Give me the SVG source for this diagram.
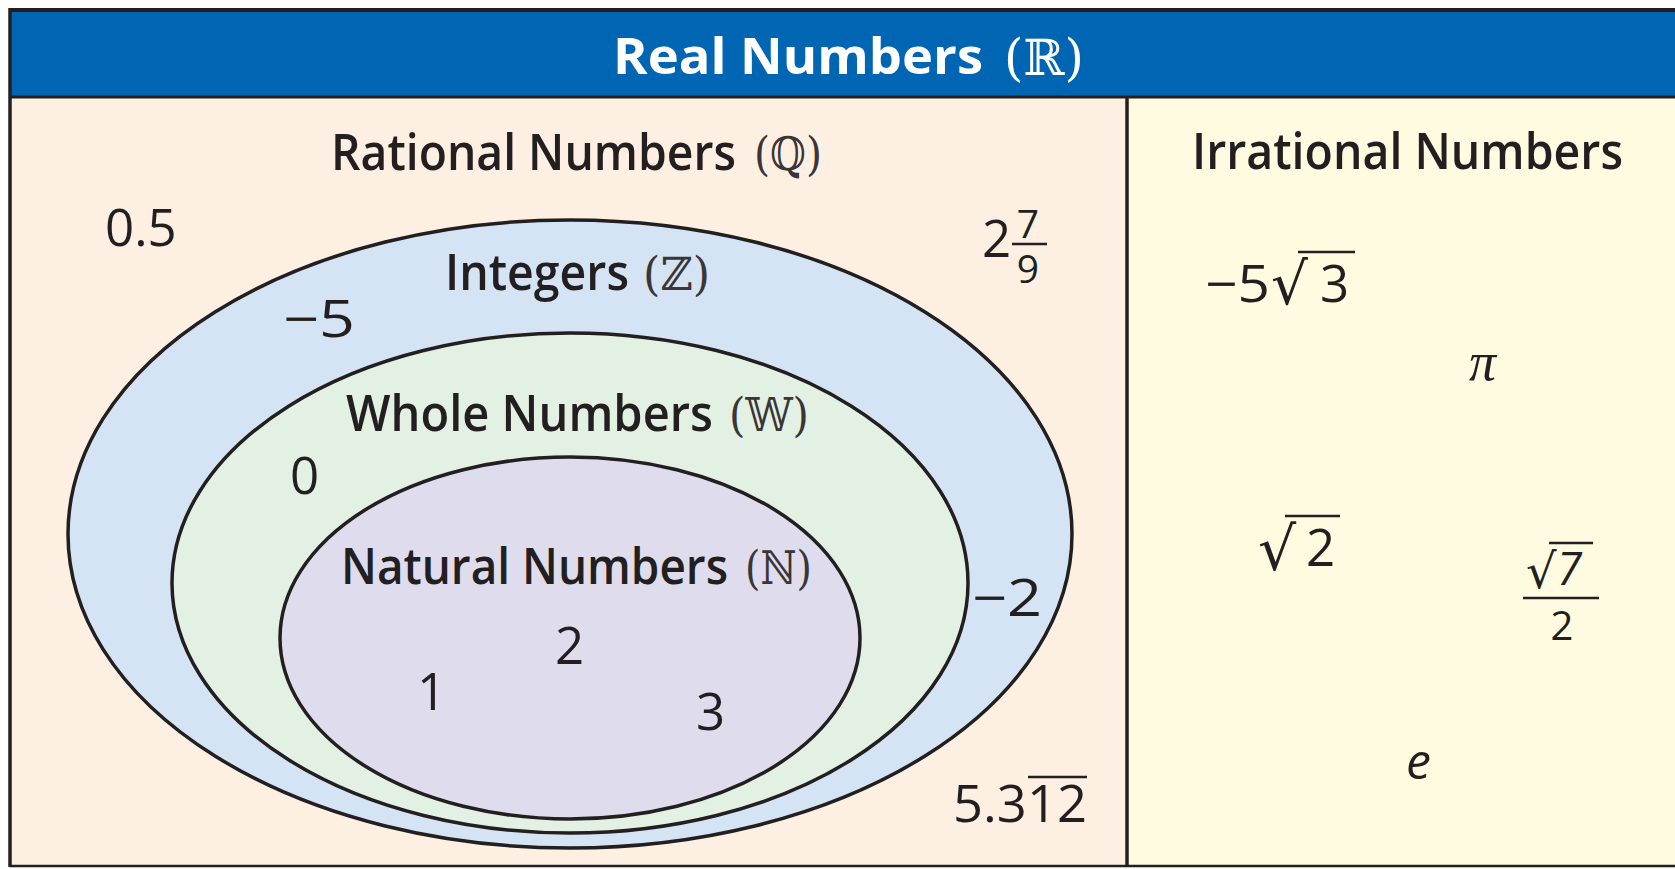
<svg xmlns="http://www.w3.org/2000/svg" width="1675" height="869" viewBox="0 0 1675 869">
<style>
.lbl{font-family:"Open Sans","Noto Sans",sans-serif;font-weight:650;fill:#231F20;font-size:50px}
.sym{font-family:"DejaVu Serif","DejaVu Sans",serif;font-weight:normal;fill:#3a3536;font-size:46px}
.num{font-family:"Open Sans","Noto Sans",sans-serif;fill:#231F20;font-size:51px}
.frac{font-family:"Open Sans","Noto Sans",sans-serif;fill:#231F20;font-size:39px}
.rad{font-family:"DejaVu Sans",sans-serif;fill:#231F20}
.ell{stroke:#231F20;stroke-width:3.5}
.rule{stroke:#231F20;stroke-width:2.5}
.frame{stroke:#231F20;fill:none}
</style>
<rect width="1675" height="869" fill="#ffffff"/>
<g id="panels">
<rect x="10" y="97" width="1117" height="769" fill="#FDF0E3"/>
<rect x="1127" y="97" width="548" height="769" fill="#FEFBE0"/>
<rect x="10" y="10" width="1665" height="87" fill="#0066B3"/>
<line class="frame" x1="10" y1="10" x2="1675" y2="10" stroke-width="4"/>
<line class="frame" x1="10" y1="97" x2="1675" y2="97" stroke-width="3"/>
<line class="frame" x1="10" y1="8" x2="10" y2="867" stroke-width="3.5"/>
<line class="frame" x1="10" y1="866" x2="1675" y2="866" stroke-width="2.5" stroke="#555"/>
<line class="frame" x1="1127" y1="96" x2="1127" y2="867" stroke-width="3.5"/>
</g>
<g id="title">
<text x="613" y="74" font-family="Open Sans, Noto Sans, sans-serif" font-weight="700" font-size="50" fill="#ffffff" textLength="370" lengthAdjust="spacingAndGlyphs">Real Numbers</text>
<text x="1004" y="75" font-family="DejaVu Serif, DejaVu Sans, serif" font-size="50" fill="#ffffff" textLength="80" lengthAdjust="spacingAndGlyphs">(ℝ)</text>
</g>
<g id="rational">
<text class="lbl" x="331" y="170" textLength="405" lengthAdjust="spacingAndGlyphs">Rational Numbers</text>
<text class="sym" x="754" y="170" textLength="68" lengthAdjust="spacingAndGlyphs">(ℚ)</text>
<text class="num" x="105" y="246">0.5</text>
<g id="mixed-fraction">
<text class="num" x="982" y="257">2</text>
<text class="frac" x="1028" y="238" text-anchor="middle">7</text>
<line class="rule" x1="1012" y1="244" x2="1047" y2="244"/>
<text class="frac" x="1028" y="283" text-anchor="middle">9</text>
</g>
<g id="repeating">
<text class="num" x="953" y="822" textLength="134" lengthAdjust="spacingAndGlyphs">5.312</text>
<line class="rule" x1="1028" y1="777" x2="1087" y2="777"/>
</g>
</g>
<g id="integers">
<ellipse class="ell" cx="570" cy="534" rx="502" ry="314" fill="#D4E4F4"/>
<text class="lbl" x="445" y="290" textLength="184" lengthAdjust="spacingAndGlyphs">Integers</text>
<text class="sym" x="643" y="290" textLength="67" lengthAdjust="spacingAndGlyphs">(ℤ)</text>
<text class="num" x="283" y="337" textLength="72" lengthAdjust="spacingAndGlyphs">−5</text>
<text class="num" x="972" y="616" textLength="70" lengthAdjust="spacingAndGlyphs">−2</text>
</g>
<g id="whole">
<ellipse class="ell" cx="570" cy="583" rx="398" ry="250" fill="#E3F1E4"/>
<text class="lbl" x="346" y="431" textLength="367" lengthAdjust="spacingAndGlyphs">Whole Numbers</text>
<text class="sym" x="729" y="431" textLength="80" lengthAdjust="spacingAndGlyphs">(𝕎)</text>
<text class="num" x="290" y="494">0</text>
</g>
<g id="natural">
<ellipse class="ell" cx="570" cy="638" rx="290" ry="181" fill="#DFDDED"/>
<text class="lbl" x="341" y="584" textLength="387" lengthAdjust="spacingAndGlyphs">Natural Numbers</text>
<text class="sym" x="745" y="584" textLength="67" lengthAdjust="spacingAndGlyphs">(ℕ)</text>
<text class="num" x="555" y="664">2</text>
<text class="num" x="417" y="710">1</text>
<text class="num" x="696" y="730">3</text>
</g>
<g id="irrational">
<text class="lbl" x="1192" y="169" textLength="431" lengthAdjust="spacingAndGlyphs">Irrational Numbers</text>
<g id="neg5root3">
<text class="num" x="1205" y="302" textLength="65" lengthAdjust="spacingAndGlyphs">−5</text>
<text class="rad" x="1271" y="304" font-size="58">√</text>
<line class="rule" x1="1298" y1="252" x2="1355" y2="252"/>
<text class="num" x="1320" y="302">3</text>
</g>
<text x="1469" y="380" font-family="Liberation Serif, DejaVu Serif, serif" font-style="italic" font-size="54" fill="#231F20">π</text>
<g id="root2">
<text class="rad" x="1258" y="570" font-size="60">√</text>
<line class="rule" x1="1285" y1="516" x2="1340" y2="516"/>
<text class="num" x="1306" y="566">2</text>
</g>
<g id="root7over2">
<text class="rad" x="1526" y="588" font-size="48">√</text>
<line class="rule" x1="1549" y1="543" x2="1593" y2="543"/>
<text x="1557" y="585" font-family="Open Sans, Noto Sans, sans-serif" font-style="italic" font-size="45" fill="#231F20">7</text>
<line class="rule" x1="1523" y1="598" x2="1599" y2="598" stroke-width="3"/>
<text x="1562" y="640" text-anchor="middle" font-family="Open Sans, Noto Sans, sans-serif" font-size="40" fill="#231F20">2</text>
</g>
<text x="1406" y="779" font-family="Open Sans, Noto Sans, sans-serif" font-style="italic" font-size="50" fill="#231F20">e</text>
</g>
</svg>
